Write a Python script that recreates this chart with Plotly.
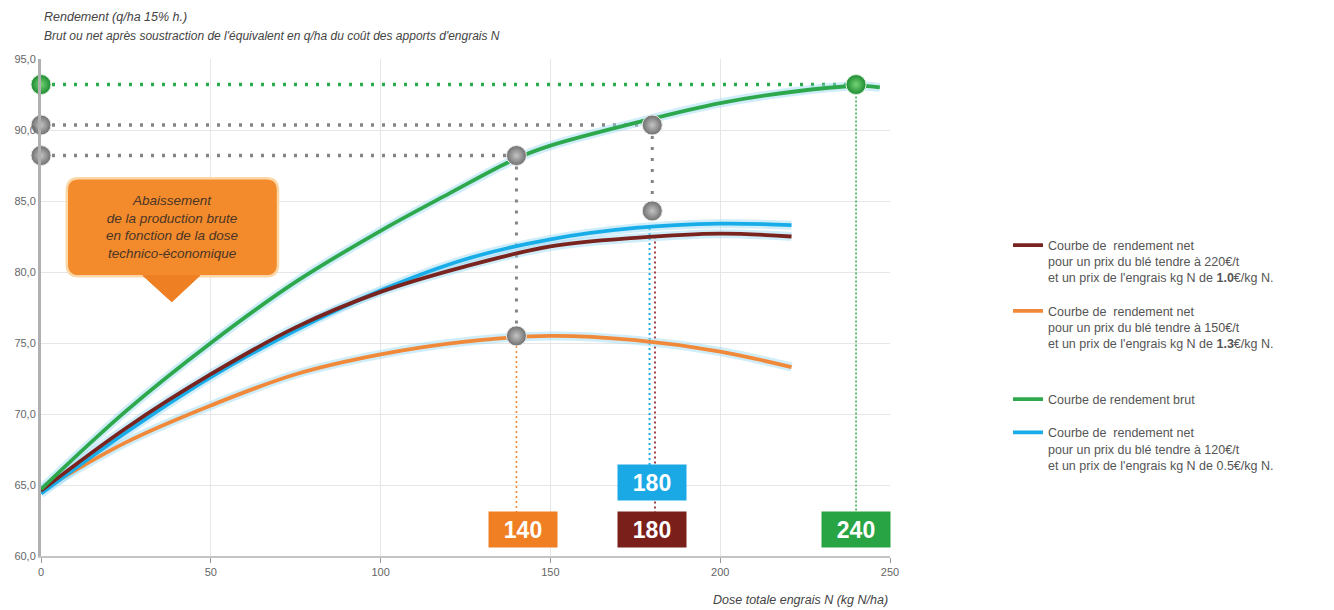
import plotly.graph_objects as go

# ---------------- data ----------------
dose = [0, 25, 50, 75, 100, 120, 140, 150, 175, 200, 225, 240, 247]
brut = [64.7, 70.2, 75.0, 79.3, 82.9, 85.5, 88.0, 88.9, 90.5, 91.9, 92.8, 93.1, 93.0]

dose_net = [0, 25, 50, 75, 100, 125, 150, 175, 200, 221]
net_220 = [64.6, 69.0, 72.8, 76.1, 78.6, 80.4, 81.8, 82.4, 82.7, 82.5]   # brown
net_150 = [64.6, 68.0, 70.6, 72.8, 74.2, 75.1, 75.5, 75.2, 74.4, 73.3]   # orange
net_120 = [64.4, 68.7, 72.6, 75.9, 78.7, 80.9, 82.3, 83.1, 83.4, 83.3]   # blue

# optimum doses (kg N/ha)
opt_brut, opt_220, opt_150, opt_120 = 240, 180, 140, 180
# highlighted yields
y_brut_opt = 93.2
y_brut_180 = 90.35
y_brut_140 = 88.2
y_net120_180 = 84.3
y_net150_140 = 75.5
y_net220_180 = 82.5
y_net120_top = 83.1

x_ticks = [0, 50, 100, 150, 200, 250]
y_ticks = [60, 65, 70, 75, 80, 85, 90, 95]

C_BROWN = "#7a2420"
C_ORANGE = "#f0893a"
C_GREEN = "#2ea84c"
C_BLUE = "#18ade8"
C_GRAY = "#858585"
GLOW = "rgba(150,215,245,0.45)"

SANS = "Liberation Sans, Arial, sans-serif"

fig = go.Figure()

# ---------------- reference dotted lines ----------------
def dotted(x, y, color, width, dash):
    fig.add_trace(go.Scatter(x=x, y=y, mode="lines", showlegend=False, hoverinfo="skip",
                             line=dict(color=color, width=width, dash=dash), cliponaxis=False))

box_top = 63.1
blue_box_top = 66.4
dotted([opt_150, opt_150], [y_net150_140, box_top], C_ORANGE, 1.6, "2px,3px")
dotted([opt_120 - 0.8, opt_120 - 0.8], [y_net120_top, blue_box_top], C_BLUE, 2, "2px,3px")
dotted([opt_220 + 0.8, opt_220 + 0.8], [y_net220_180, box_top], "#a0404a", 2, "2px,3px")
dotted([opt_brut, opt_brut], [y_brut_opt, box_top], C_GREEN, 1.5, "2px,2px")
dotted([0, opt_brut], [y_brut_opt, y_brut_opt], C_GREEN, 3.5, "3px,8px")
dotted([0, opt_220], [y_brut_180, y_brut_180], C_GRAY, 3.5, "3px,8px")
dotted([0, opt_150], [y_brut_140, y_brut_140], C_GRAY, 3.5, "3px,8px")
dotted([opt_150, opt_150], [y_brut_140, y_net150_140], C_GRAY, 3, "3px,8px")
dotted([opt_220, opt_220], [y_brut_180, y_net120_180], C_GRAY, 3, "3px,8px")

# ---------------- curves (glow under each) ----------------
curves = [
    (dose_net, net_150, C_ORANGE, "Courbe de  rendement net<br>pour un prix du blé tendre à 150€/t<br>et un prix de l'engrais kg N de <b>1.3</b>€/kg N.", 2, "legend"),
    (dose_net, net_120, C_BLUE, "Courbe de  rendement net<br>pour un prix du blé tendre à 120€/t<br>et un prix de l'engrais kg N de 0.5€/kg N.", 4, "legend2"),
    (dose_net, net_220, C_BROWN, "Courbe de  rendement net<br>pour un prix du blé tendre à 220€/t<br>et un prix de l'engrais kg N de <b>1.0</b>€/kg N.", 1, "legend"),
    (dose, brut, C_GREEN, "Courbe de rendement brut", 3, "legend2"),
]
for xs, ys, col, name, rank, lg in curves:
    fig.add_trace(go.Scatter(x=xs, y=ys, mode="lines", showlegend=False, hoverinfo="skip",
                             line=dict(color=GLOW, width=9, shape="spline", smoothing=1)))
for i, (xs, ys, col, name, rank, lg) in enumerate(curves):
    fig.add_trace(go.Scatter(x=xs, y=ys, mode="lines", name=name, legendrank=rank,
                             legendgroup=f"g{i}", legend=lg,
                             line=dict(color=col, width=3.8, shape="spline", smoothing=1)))

# ---------------- markers ----------------
gray_x = [0, 0, opt_150, opt_220, opt_220, opt_150]
gray_y = [y_brut_180, y_brut_140, y_brut_140, y_brut_180, y_net120_180, y_net150_140]
fig.add_trace(go.Scatter(x=gray_x, y=gray_y, mode="markers", showlegend=False, cliponaxis=False,
                         marker=dict(symbol="circle", size=20, color="#6e6e6e",
                                     gradient=dict(type="radial", color="#c4c4c4"),
                                     line=dict(color="#e8e8e8", width=1))))
fig.add_trace(go.Scatter(x=[0, opt_brut], y=[y_brut_opt, y_brut_opt], mode="markers", showlegend=False,
                         cliponaxis=False,
                         marker=dict(symbol="circle", size=20, color="#1c8a32",
                                     gradient=dict(type="radial", color="#74d474"),
                                     line=dict(color="#d8f0d8", width=1))))

# ---------------- value boxes ----------------
boxes = [
    (opt_150 + 2, 61.85, "140", "#f07f24"),
    (opt_220, 61.85, "180", "#7b1f1a"),
    (opt_120, 65.15, "180", "#1ba9e6"),
    (opt_brut, 61.85, "240", "#28a445"),
]
for bx, by, txt, col in boxes:
    fig.add_annotation(x=bx, y=by, xref="x", yref="y", text=f"<b>{txt}</b>", showarrow=False,
                       font=dict(family=SANS, size=23, color="white"),
                       bgcolor=col, width=64, height=31, borderpad=2, align="center", valign="middle")

# ---------------- callout ----------------
x0, x1, y0, y1 = 7.6, 69.8, 79.7, 86.6
rx, ry = 3.5, 0.85
path = (f"M {x0+rx},{y1} L {x1-rx},{y1} Q {x1},{y1} {x1},{y1-ry} L {x1},{y0+ry} "
        f"Q {x1},{y0} {x1-rx},{y0} L {x0+rx},{y0} Q {x0},{y0} {x0},{y0+ry} "
        f"L {x0},{y1-ry} Q {x0},{y1} {x0+rx},{y1} Z")
fig.add_shape(type="path", path=path, xref="x", yref="y", fillcolor="#f38b2c",
              line=dict(color="#fcd7a6", width=2.5), layer="above")
fig.add_shape(type="path", path="M 30.0,79.75 L 46.8,79.75 L 38.5,77.9 Z", xref="x", yref="y",
              fillcolor="#ee7f22", line=dict(color="#ee7f22", width=1), layer="above")
fig.add_annotation(x=(x0 + x1) / 2, y=(y0 + y1) / 2, xref="x", yref="y", showarrow=False,
                   text="<i>Abaissement<br>de la production brute<br>en fonction de la dose<br>technico-économique</i>",
                   font=dict(family=SANS, size=13.5, color="#4a3526"), align="center")

# ---------------- titles ----------------
fig.add_annotation(x=0.001, y=1.0845, xref="paper", yref="paper", xanchor="left", yanchor="middle",
                   showarrow=False, text="<i>Rendement (q/ha 15% h.)</i>",
                   font=dict(family=SANS, size=12.5, color="#444"))
fig.add_annotation(x=0.001, y=1.046, xref="paper", yref="paper", xanchor="left", yanchor="middle",
                   showarrow=False,
                   text="<i>Brut ou net après soustraction de l'équivalent en q/ha du coût des apports d'engrais N</i>",
                   font=dict(family=SANS, size=12, color="#444"))
fig.add_annotation(x=1.0, y=-0.0885, xref="paper", yref="paper", xanchor="right", yanchor="middle",
                   showarrow=False, text="<i>Dose totale engrais N (kg N/ha)</i>",
                   font=dict(family=SANS, size=12.5, color="#444"))

legend_common = dict(xanchor="left", yanchor="top",
                     font=dict(family=SANS, size=12.5, color="#555"),
                     traceorder="grouped", tracegroupgap=14, valign="top",
                     itemwidth=30, bgcolor="rgba(0,0,0,0)")

fig.update_layout(
    width=1326, height=602,
    margin=dict(l=33, r=444, t=51, b=54, autoexpand=False),
    paper_bgcolor="white", plot_bgcolor="white",
    separators=", ",
    showlegend=True,
    legend=dict(x=1.139, y=0.655, **legend_common),
    legend2=dict(x=1.139, y=0.345, **legend_common),
    xaxis=dict(range=[0, 250], tickvals=x_ticks, showgrid=True, gridcolor="#e6e6e6", gridwidth=1,
               zeroline=False, showline=True, linecolor="#c4c4c4", linewidth=2, automargin=False,
               ticks="outside", ticklen=5, tickcolor="#999",
               tickfont=dict(family=SANS, size=11, color="#666")),
    yaxis=dict(range=[60, 95], tickvals=y_ticks, tickformat=".1f", showgrid=True, gridcolor="#e6e6e6",
               zeroline=False, showline=True, linecolor="#b0b0b0", linewidth=3, automargin=False,
               ticks="", tickfont=dict(family=SANS, size=11, color="#666")),
)

fig.write_html("out.html")
